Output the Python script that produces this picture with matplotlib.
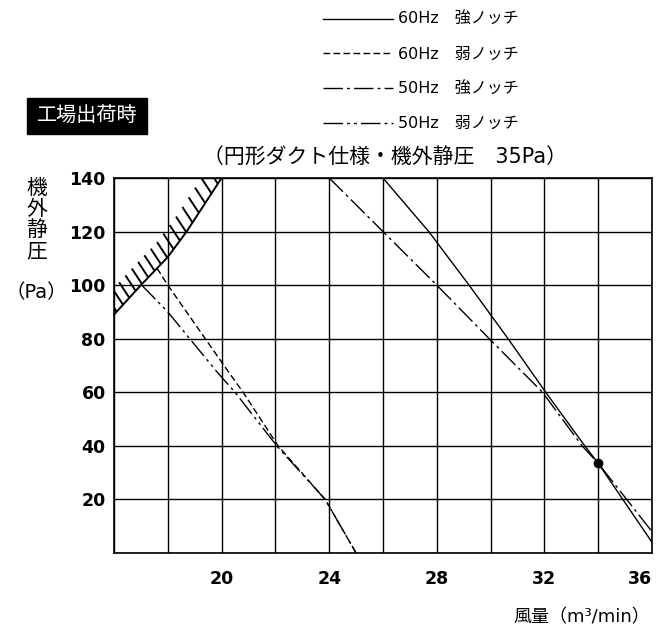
import numpy as np
import matplotlib
matplotlib.use("Agg")
import matplotlib.pyplot as plt
from matplotlib.patches import Rectangle

plt.rcParams['font.family'] = ['DejaVu Sans', 'Noto Sans CJK JP']

# --- data (風量 m3/min, 機外静圧 Pa) ---
limit_q = [16.0, 17.0, 18.0, 18.7, 20.0]          # hatched limit line
limit_p = [89, 100, 110.5, 120, 140]

q_60_strong = [26.0, 27.7, 29.2, 30.65, 32.05, 33.5, 34.0, 36.0]
p_60_strong = [140, 120, 100, 80, 60, 40, 33.5, 4]

q_60_weak = [17.6, 18.0, 20.25, 20.8, 22.1, 23.85, 25.0]
p_60_weak = [106.3, 100, 67.7, 60, 40, 20, 0]

q_50_strong = [24.0, 26.0, 28.0, 29.95, 31.93, 33.4, 34.0, 36.0]
p_50_strong = [140, 120, 100, 80, 60, 40, 33.5, 8]

q_50_weak = [17.03, 18.0, 19.82, 20.5, 22.05, 23.85, 25.0]
p_50_weak = [100, 90, 67.7, 60, 40, 20, 0]

design_q = [34.0]
design_p = [33.5]

x_grid = np.arange(16, 37, 2)
x_labels = [20, 24, 28, 32, 36]
y_grid = np.arange(0, 141, 20)

labels = ['60Hz　強ノッチ', '60Hz　弱ノッチ', '50Hz　強ノッチ', '50Hz　弱ノッチ']

fig = plt.figure(figsize=(6.56, 6.31), dpi=100)
ax = fig.add_axes([114/656, 1 - 553/631, 538/656, 375/631])

lw = 1.0
dash = (0, (4.8, 2.4))
dashdot = (0, (14, 3, 2, 3))
dashdotdot = (0, (14, 3, 2, 3, 2, 3))

l1, = ax.plot(q_60_strong, p_60_strong, color='black', lw=lw, ls='-')
l2, = ax.plot(q_60_weak, p_60_weak, color='black', lw=lw, ls=dash)
l3, = ax.plot(q_50_strong, p_50_strong, color='black', lw=lw, ls=dashdot)
l4, = ax.plot(q_50_weak, p_50_weak, color='black', lw=lw, ls=dashdotdot)

# limit line with hatch ticks on the upper-left side
ax.plot(limit_q, limit_p, color='black', lw=1.4)
for q0 in np.arange(16.1, 20.0, 0.235):
    p0 = np.interp(q0, limit_q, limit_p)
    ax.plot([q0, q0 - 0.38], [p0, p0 + 5.8], color='black', lw=1.4,
            solid_capstyle='butt')

ax.plot(design_q, design_p, 'o', color='black', ms=6)

ax.set_xlim(16, 36)
ax.set_ylim(0, 140)
ax.set_xticks(x_grid, [str(v) if v in x_labels else '' for v in x_grid])
ax.set_yticks(y_grid, ['' if v == 0 else str(v) for v in y_grid])
ax.tick_params(length=0, labelsize=12.5)
ax.tick_params(axis='x', pad=12)
ax.tick_params(axis='y', pad=6)
for t in ax.get_xticklabels() + ax.get_yticklabels():
    t.set_fontweight('bold')
ax.get_xticklabels()[-1].set_horizontalalignment('right')
ax.grid(True, color='black', lw=1.0)
ax.set_axisbelow(True)
for s in ax.spines.values():
    s.set_linewidth(1.2)

fig.legend([l1, l2, l3, l4], labels, loc='upper left',
           bbox_to_anchor=(323/656, 1 - 12/631), frameon=False,
           fontsize=11.5, handlelength=4.4, handletextpad=0.3,
           labelspacing=1.23, borderpad=0, borderaxespad=0)

fig.text(385/656, 1 - 157/631, '（円形ダクト仕様・機外静圧　35Pa）',
         ha='center', va='center', fontsize=15)

fig.add_artist(Rectangle((27/656, 1 - 134/631), 120/656, 36/631,
                         transform=fig.transFigure, color='black'))
fig.text(87/656, 1 - 116/631, '工場出荷時', color='white',
         ha='center', va='center', fontsize=14.5)

for ch, yy in zip('機外静圧', [188, 209, 230, 251]):
    fig.text(37/656, 1 - yy/631, ch, ha='center', va='center', fontsize=15)
fig.text(36/656, 1 - 293/631, '（Pa）', ha='center', va='center', fontsize=14)

fig.text(513/656, 1 - 617/631, '風量（m³/min）', ha='left', va='center',
         fontsize=13)

fig.savefig('out.png', dpi=100)
